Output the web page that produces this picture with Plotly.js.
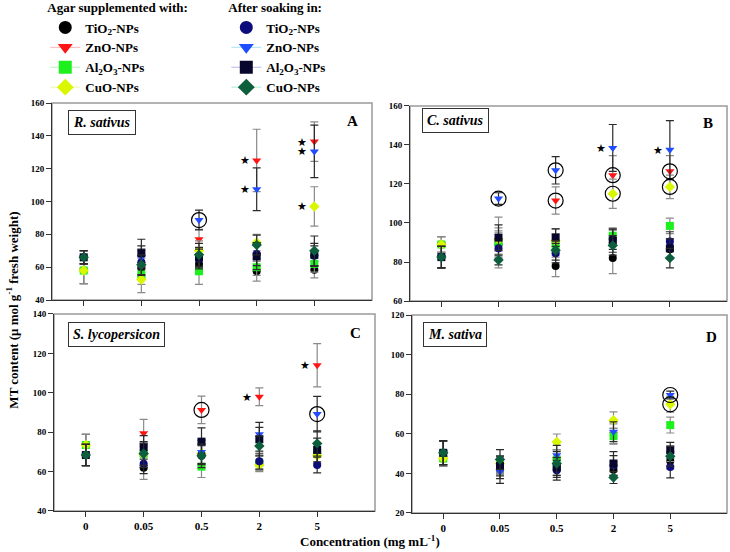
<!DOCTYPE html>
<html>
<head>
<meta charset="utf-8">
<script src="https://cdn.plot.ly/plotly-3.0.1.min.js"></script>
<style>
  body { margin: 0; background: #fff; }
  #chart { width: 730px; height: 552px; }
</style>
</head>
<body>
<div id="chart"></div>
<script>
// concentrations (mg/mL)
var cats = ['0', '0.05', '0.5', '2', '5'];
var seriesNames = ['TiO<sub>2</sub>-NPs', 'ZnO-NPs', 'Al<sub>2</sub>O<sub>3</sub>-NPs', 'CuO-NPs'];

// rows: TiO2, ZnO, Al2O3, CuO
// R. sativus
var rsAgar = [[58, 59.5, 62, 57.5, 58.5], [58, 62, 77, 125, 136.5], [58, 55.5, 57.5, 60, 62], [58, 52.5, 70, 75, 97]];
var rsAgarErr = [[8, 6, 5, 6, 5], [8, 8, 6, 19, 12], [8, 6, 8, 5, 5], [8, 8, 6, 5, 12]];
var rsSoak = [[66, 63, 65, 68, 67], [66, 66, 88.7, 107.5, 130.5], [66, 68.5, 66, 66.5, 67.5], [66, 61.5, 67.5, 73.5, 70]];
var rsSoakErr = [[4, 8, 6, 7, 6], [4, 7, 6, 13, 16], [4, 8.5, 6, 8, 7], [4, 6, 7, 6, 9]];

// C. sativus
var csAgar = [[89, 89, 78, 82, 86.5], [89, 90, 111.5, 124.5, 126.5], [89, 90, 88.5, 93.5, 98.5], [89, 91.5, 91, 115, 118.5]];
var csAgarErr = [[4, 6, 5.5, 8, 5], [4, 6, 7, 10, 8], [4, 13, 6, 4, 4], [4, 6, 6, 7.5, 6]];
var csSoak = [[82.5, 87, 84.5, 91.5, 90.5], [82.5, 112.5, 127, 138.5, 137.5], [82.5, 92.5, 92.5, 91, 87], [82.5, 81, 86, 88.5, 82]];
var csSoakErr = [[5.5, 5, 5, 5, 5], [5.5, 3, 7, 12, 15], [5.5, 6.5, 4.5, 6, 5], [5.5, 2.5, 5, 5, 5]];

// S. lycopersicon
var slAgar = [[73.5, 62, 68, 64, 69], [73.5, 79.5, 91.3, 98, 114], [73.5, 69, 62.5, 64.5, 69.5], [73.5, 68.5, 69.2, 63.3, 68]];
var slAgarErr = [[5.4, 6, 5, 4, 5], [5.4, 7, 7, 4.5, 11], [5.4, 6, 5.5, 4, 5], [5.4, 6, 5, 2, 5]];
var slSoak = [[68.4, 64, 68.5, 65.3, 63.3], [68.4, 68, 70, 79, 89.2], [68.4, 72.3, 75.2, 76.4, 71], [68.4, 69.2, 68, 73, 74.3]];
var slSoakErr = [[5.4, 5, 5, 4, 4], [5.4, 6, 6, 6, 9], [5.4, 6, 7, 6, 6], [5.4, 6, 6, 5, 6.4]];

// M. sativa
var msAgar = [[47.5, 43.5, 43, 41.9, 46.3], [47.5, 44, 47, 60, 50], [47.5, 44.5, 47, 58.8, 64.4], [47.5, 45, 55.9, 66.9, 74.9]];
var msAgarErr = [[4, 4, 4, 4, 4], [4, 4, 5, 5, 4], [4, 4, 5, 4, 4], [4, 4, 4, 4.2, 4]];
var msSoak = [[50.4, 42.4, 41.6, 44, 43.2], [50.4, 41, 49.2, 61, 79.6], [50.4, 43.7, 43, 45, 51.7], [50.4, 47, 45, 37.9, 48.7]];
var msSoakErr = [[6, 5, 5, 5, 5.5], [6, 6, 5, 5, 2], [6, 5, 5, 6, 4], [6, 5, 6, 3, 5]];

// marked points: [group, series, concentration index]
var rsCircled = [['soak', 1, 2]];
var rsStars = [['agar', 1, 3], ['soak', 1, 3], ['agar', 1, 4], ['soak', 1, 4], ['agar', 3, 4]];
var csCircled = [['soak', 1, 1], ['soak', 1, 2], ['agar', 1, 2], ['agar', 1, 3], ['agar', 3, 3], ['agar', 1, 4], ['agar', 3, 4]];
var csStars = [['soak', 1, 3], ['soak', 1, 4]];
var slCircled = [['agar', 1, 2], ['soak', 1, 4]];
var slStars = [['agar', 1, 3], ['agar', 1, 4]];
var msCircled = [['soak', 1, 4], ['agar', 3, 4]];
var msStars = [];

var symbols = ['circle', 'triangle-down', 'square', 'diamond'];
var agarColors = ['#000000', '#ff1414', '#1ef01e', '#d8f700'];
var soakColors = ['#0c0c7a', '#1f4dff', '#07072e', '#0d5e3c'];
var agarLegendLines = ['#ffffff', '#ffb3b3', '#b8f5b8', '#eef7a8'];
var soakLegendLines = ['#ffffff', '#a8e4f5', '#b8b8e8', '#a8ecd4'];

var fontFam = 'Liberation Serif, Times New Roman, serif';
var traces = [];
var annotations = [];
var shapes = [];

function addPanel(xa, ya, agar, agarErr, soak, soakErr, circled, stars) {
    var groups = [[agar, agarErr, agarColors, '#8a8a8a'], [soak, soakErr, soakColors, '#2a2a2a']];
    groups.forEach(function (g) {
        for (var s = 0; s < 4; s++) {
            traces.push({
                x: cats, y: g[0][s], type: 'scatter', mode: 'markers',
                xaxis: xa, yaxis: ya, showlegend: false, hoverinfo: 'skip',
                marker: {symbol: symbols[s], size: 8, color: g[2][s]},
                error_y: {type: 'data', array: g[1][s], visible: true, color: g[3], thickness: 1.2, width: 4}
            });
        }
    });
    var cx = [], cy = [];
    circled.forEach(function (c) {
        var vals = c[0] == 'agar' ? agar : soak;
        cx.push(cats[c[2]]);
        cy.push(vals[c[1]][c[2]]);
    });
    traces.push({
        x: cx, y: cy, type: 'scatter', mode: 'markers', xaxis: xa, yaxis: ya,
        showlegend: false, hoverinfo: 'skip',
        marker: {symbol: 'circle-open', size: 15, color: '#000', line: {width: 1.2, color: '#000'}}
    });
    stars.forEach(function (c) {
        var vals = c[0] == 'agar' ? agar : soak;
        // annotation x on a category axis is the category index
        annotations.push({
            x: c[2], y: vals[c[1]][c[2]], xref: xa, yref: ya,
            text: '★', showarrow: false, xshift: -12,
            font: {size: 11, color: '#000'}
        });
    });
    shapes.push({
        type: 'rect', xref: xa + ' domain', yref: ya + ' domain',
        x0: 0, x1: 1, y0: 0, y1: 1, layer: 'below',
        line: {color: '#9a9a9a', width: 1.5}
    });
}

addPanel('x', 'y', rsAgar, rsAgarErr, rsSoak, rsSoakErr, rsCircled, rsStars);
addPanel('x2', 'y2', csAgar, csAgarErr, csSoak, csSoakErr, csCircled, csStars);
addPanel('x3', 'y3', slAgar, slAgarErr, slSoak, slSoakErr, slCircled, slStars);
addPanel('x4', 'y4', msAgar, msAgarErr, msSoak, msSoakErr, msCircled, msStars);

// legend entries
for (var s = 0; s < 4; s++) {
    traces.push({
        x: [null], y: [null], type: 'scatter', mode: 'lines+markers', name: seriesNames[s],
        legend: 'legend', line: {color: agarLegendLines[s], width: 1},
        marker: {symbol: symbols[s], size: 13, color: agarColors[s]}
    });
}
for (var s = 0; s < 4; s++) {
    traces.push({
        x: [null], y: [null], type: 'scatter', mode: 'lines+markers', name: seriesNames[s],
        legend: 'legend2', line: {color: soakLegendLines[s], width: 1},
        marker: {symbol: symbols[s], size: 13, color: soakColors[s]}
    });
}

// panel labels
var panels = [
    ['x', 'y', 'R. sativus', 'A', 0.049, 0.964, 0.94, 0.909],
    ['x2', 'y2', 'C. sativus', 'B', 0.037, 0.99, 0.94, 0.913],
    ['x3', 'y3', 'S. lycopersicon', 'C', 0.044, 0.96, 0.938, 0.904],
    ['x4', 'y4', 'M. sativa', 'D', 0.035, 0.965, 0.952, 0.89]
];
panels.forEach(function (p) {
    annotations.push({
        xref: p[0] + ' domain', yref: p[1] + ' domain', x: p[4], y: p[5],
        xanchor: 'left', yanchor: 'top', showarrow: false,
        text: '<b><i>' + p[2] + '</i></b>', font: {size: 14, family: fontFam, color: '#000'},
        bordercolor: '#333', borderwidth: 1, borderpad: 4, bgcolor: '#fff'
    });
    annotations.push({
        xref: p[0] + ' domain', yref: p[1] + ' domain', x: p[6], y: p[7],
        xanchor: 'center', yanchor: 'middle', showarrow: false,
        text: '<b>' + p[3] + '</b>', font: {size: 15, family: fontFam, color: '#000'}
    });
});

annotations.push({
    xref: 'paper', yref: 'paper', x: 0.507, y: 0.02, xanchor: 'center', yanchor: 'middle',
    showarrow: false, text: '<b>Concentration (mg mL<sup>-1</sup>)</b>',
    font: {size: 13, family: fontFam, color: '#000'}
});
annotations.push({
    xref: 'paper', yref: 'paper', x: 0.017, y: 0.438, xanchor: 'center', yanchor: 'middle',
    textangle: -90, showarrow: false, text: '<b>MT content (μ mol g<sup>-1</sup> fresh weight)</b>',
    font: {size: 13, family: fontFam, color: '#000'}
});

function xAxis(domain, anchor, labels) {
    return {
        domain: domain, anchor: anchor, type: 'category', categoryarray: cats,
        range: [-0.55, 5.0], showgrid: false, zeroline: false,
        showline: true, linecolor: '#333', linewidth: 1,
        ticks: 'outside', ticklen: 5, tickcolor: '#333',
        showticklabels: labels,
        tickfont: {size: 11, family: fontFam, weight: 'bold', color: '#000'}
    };
}
function yAxis(domain, anchor, range) {
    return {
        domain: domain, anchor: anchor, range: range, dtick: 20,
        showgrid: false, zeroline: false,
        showline: true, linecolor: '#333', linewidth: 1,
        ticks: 'outside', ticklen: 5, tickcolor: '#333',
        tickfont: {size: 9, family: fontFam, weight: 'bold', color: '#000'}
    };
}

var legendFont = {size: 13, family: fontFam, weight: 'bold', color: '#000'};
var layout = {
    width: 730, height: 552,
    margin: {l: 0, r: 0, t: 0, b: 0, autoexpand: false},
    paper_bgcolor: '#fff', plot_bgcolor: '#fff',
    font: {family: fontFam, color: '#000'},
    showlegend: true,
    legend: {
        x: 0.062, y: 1.008, xanchor: 'left', yanchor: 'top', bgcolor: 'rgba(0,0,0,0)',
        title: {text: '<b>Agar supplemented with:</b>', font: legendFont},
        font: legendFont, tracegroupgap: 0
    },
    legend2: {
        x: 0.31, y: 1.008, xanchor: 'left', yanchor: 'top', bgcolor: 'rgba(0,0,0,0)',
        title: {text: '<b>After soaking in:</b>', font: legendFont},
        font: legendFont, tracegroupgap: 0
    },
    xaxis: xAxis([0.0712, 0.5096], 'y', false),
    yaxis: yAxis([0.4565, 0.8134], 'x', [40, 160]),
    xaxis2: xAxis([0.5616, 0.9959], 'y2', false),
    yaxis2: yAxis([0.4547, 0.8080], 'x2', [60, 160]),
    xaxis3: xAxis([0.0740, 0.5137], 'y3', true),
    yaxis3: yAxis([0.0743, 0.4312], 'x3', [40, 140]),
    xaxis4: xAxis([0.5644, 0.9959], 'y4', true),
    yaxis4: yAxis([0.0707, 0.4293], 'x4', [20, 120]),
    annotations: annotations,
    shapes: shapes
};

Plotly.newPlot('chart', traces, layout, {displayModeBar: false, staticPlot: true});
</script>
</body>
</html>
